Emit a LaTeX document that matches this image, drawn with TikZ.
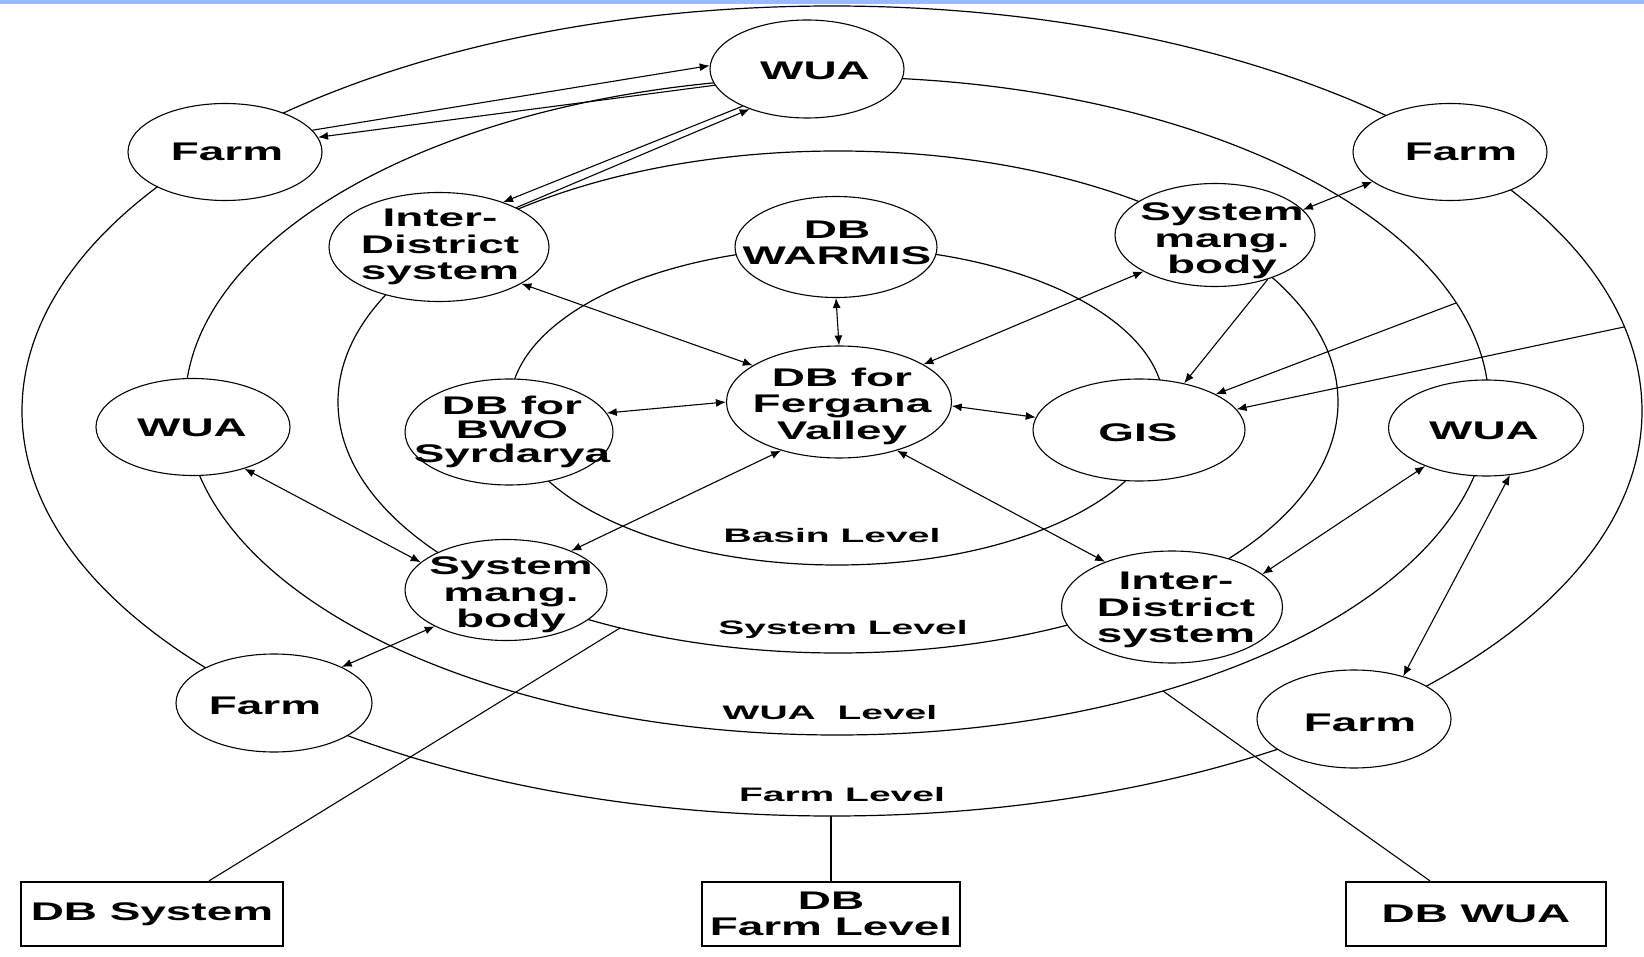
\documentclass[tikz,border=0pt]{standalone}
\usepackage{fontspec}
\newfontfamily\nodefont{Liberation Sans}[FakeStretch=1.8]
\newfontfamily\lvlfont{Liberation Sans}[FakeStretch=2.0]
\usetikzlibrary{shapes.geometric,arrows.meta,calc}
\definecolor{topbar}{RGB}{153,187,253}
\begin{document}
\begin{tikzpicture}[x=1pt,y=-1pt,
  ring/.style={line width=1.2pt},
  ell/.style={ellipse, draw, fill=white, line width=1.1pt, inner sep=0pt},
  txt/.style={font=\nodefont\bfseries\fontsize{25.5}{26.5}\selectfont, align=center, inner sep=0pt},
  txtb/.style={font=\nodefont\bfseries\fontsize{25.5}{24}\selectfont, align=center, inner sep=0pt},
  lvl/.style={font=\lvlfont\bfseries\fontsize{19.5}{19.5}\selectfont, inner sep=0pt},
  box/.style={draw, line width=2.2pt, inner sep=0pt, minimum height=64pt},
  thinline/.style={line width=1.1pt},
  arr/.style={line width=1.1pt, -{Latex[length=10pt,width=8pt]}},
  arrs/.style={line width=1.1pt, {Latex[length=10pt,width=8pt]}-{Latex[length=10pt,width=8pt]}},
]
\useasboundingbox (0,0) rectangle (1644,957);
\fill[topbar] (0,0) rectangle (1644,4);

% level rings
\draw[ring] (832,411) ellipse [x radius=810pt, y radius=405pt];
\draw[ring] (837,406) ellipse [x radius=652pt, y radius=329pt];
\draw[ring] (838,402) ellipse [x radius=500pt, y radius=251pt];
\draw[ring] (837,406) ellipse [x radius=327pt, y radius=159pt];

% points on the rings
\coordinate (r2p) at (620,628);
\coordinate (r4b) at (831,816);
\coordinate (r3p) at (1163,691);
\coordinate (r3q) at (1456,303);
\coordinate (r4q) at (1624,327);

% nodes
\node[ell, minimum width=194pt, minimum height=98pt] (wuaT) at (807,69) {};
\node[ell, minimum width=194pt, minimum height=97pt] (farmTL) at (225,152) {};
\node[ell, minimum width=194pt, minimum height=97pt] (farmTR) at (1450,152) {};
\node[ell, minimum width=220pt, minimum height=109pt] (idTL) at (439,247) {};
\node[ell, minimum width=202pt, minimum height=101pt] (warmis) at (836,247) {};
\node[ell, minimum width=200pt, minimum height=103pt] (smTR) at (1215,235) {};
\node[ell, minimum width=194pt, minimum height=97pt] (wuaL) at (193,427) {};
\node[ell, minimum width=208pt, minimum height=106pt] (bwo) at (509,432) {};
\node[ell, minimum width=225pt, minimum height=112pt] (fv) at (839,402) {};
\node[ell, minimum width=212pt, minimum height=102pt] (gis) at (1139,430) {};
\node[ell, minimum width=195pt, minimum height=96pt] (wuaR) at (1486,428) {};
\node[ell, minimum width=202pt, minimum height=101pt] (smBL) at (506,590) {};
\node[ell, minimum width=221pt, minimum height=112pt] (idBR) at (1172,607) {};
\node[ell, minimum width=196pt, minimum height=98pt] (farmBL) at (274,703) {};
\node[ell, minimum width=194pt, minimum height=98pt] (farmBR) at (1354,719) {};

% node texts
\node[txt] (wuaT-t) at ($(wuaT)+(8,2)$) {WUA};
\node[txt] (farmTL-t) at ($(farmTL)+(2,0)$) {Farm};
\node[txt] (farmTR-t) at ($(farmTR)+(11,0)$) {Farm};
\node[txt] (idTL-t) at ($(idTL)+(1,0)$) {Inter-\\District\\system};
\node[txt] (warmis-t) at ($(warmis)+(1,-4)$) {DB\\WARMIS};
\node[txt] (smTR-t) at ($(smTR)+(7,6)$) {System\\mang.\\body};
\node[txt] (wuaL-t) at ($(wuaL)+(-1,1)$) {WUA};
\node[txtb] (bwo-t) at ($(bwo)+(3,0)$) {DB for\\BWO\\Syrdarya};
\node[txt] (fv-t) at ($(fv)+(3,4)$) {DB for\\Fergana\\Valley};
\node[txt] (gis-t) at ($(gis)+(-1,3)$) {GIS};
\node[txt] (wuaR-t) at ($(wuaR)+(-2,3)$) {WUA};
\node[txt] (smBL-t) at ($(smBL)+(5,5)$) {System\\mang.\\body};
\node[txt] (idBR-t) at ($(idBR)+(4,3)$) {Inter-\\District\\system};
\node[txt] (farmBL-t) at ($(farmBL)+(-9,3)$) {Farm};
\node[txt] (farmBR-t) at ($(farmBR)+(6,4)$) {Farm};

% level labels
\node[lvl] (lbasin) at (832,536) {Basin Level};
\node[lvl] (lsys) at (843,629) {System Level};
\node[lvl] (lwua) at (830,713) {WUA\ \ Level};
\node[lvl] (lfarm) at (842,795) {Farm Level};

% boxes
\node[box, txt, minimum width=262pt] (dbsys) at (152,914) {DB System};
\node[box, txt, minimum width=258pt] (dbfarm) at (831,914) {DB\\Farm Level};
\node[box, txt, minimum width=260pt] (dbwua) at (1476,914) {DB WUA};

% box connectors
\draw[thinline] ([xshift=57pt]dbsys.north) -- (r2p);
\draw[line width=2.2pt] (dbfarm.north) -- (r4b);
\draw[thinline] ([xshift=-46pt]dbwua.north) -- (r3p);

% arrows
\draw[arr] (farmTL.14) -- (wuaT.178);
\draw[arr] (wuaT.190) -- (farmTL.9);
\draw[arr] (idTL.27) -- (wuaT.215);
\draw[arr] (wuaT.210) -- (idTL.35);
\draw[arrs] (idTL.336) -- (fv.157);
\draw[arrs] (bwo.11) -- (fv.180);
\draw[arrs] (warmis.south) -- (fv.north);
\draw[arrs] (fv.24) -- (smTR.207);
\draw[arrs] (fv.358) -- (gis.173);
\draw[arrs] (smTR.16) -- (farmTR.201);
\draw[arr] (smTR.320) -- (gis.46);
\draw[arr] (r3q) -- (gis.25);
\draw[arr] (r4q) -- (gis.12);
\draw[arrs] (fv.320) -- (idBR.146);
\draw[arrs] (fv.220) -- (smBL.31);
\draw[arrs] (wuaL.321) -- (smBL.162);
\draw[arrs] (smBL.207) -- (farmBL.28);
\draw[arrs] (wuaR.212) -- (idBR.20);
\draw[arrs] (wuaR.297) -- (farmBR.41);
\end{tikzpicture}
\end{document}
